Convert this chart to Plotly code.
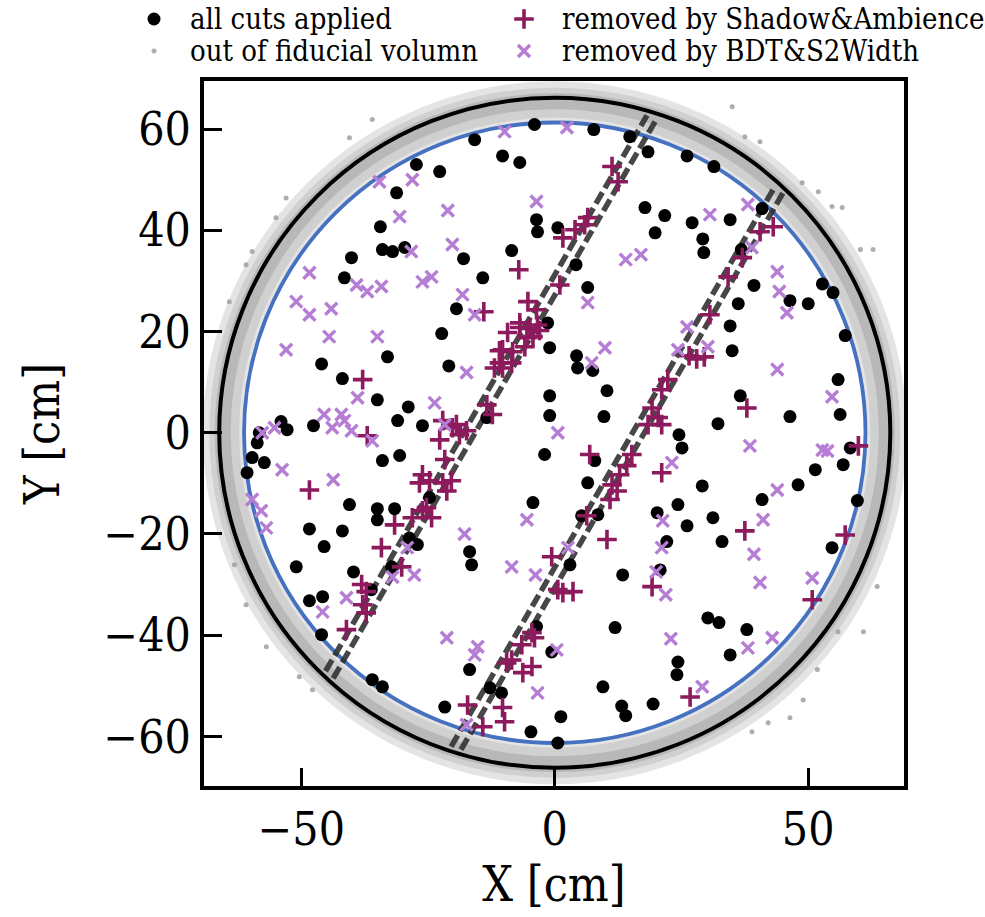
import math
import plotly.graph_objects as go

# ---- event positions (cm) ----
all_cuts = [
    (-4.0, 60.9), (-15.8, 57.9), (-27.3, 53.0), (-22.7, 51.6), (-10.3, 54.7), (-6.9, 53.4),
    (-31.2, 47.4), (-34.4, 40.7), (-34.0, 36.2), (-32.0, 35.8), (-29.6, 36.6), (-40.1, 34.6),
    (-41.5, 30.6), (-18.0, 34.4), (-8.5, 36.0), (-14.2, 30.6), (-19.4, 24.5), (-3.6, 42.1),
    (-3.4, 39.7), (0.6, 40.5), (7.7, 59.9), (14.8, 58.5), (18.4, 55.5), (26.1, 54.7),
    (31.4, 52.6), (17.8, 44.5), (21.7, 42.9), (27.1, 41.5), (19.8, 39.5), (29.2, 38.3),
    (29.4, 35.6), (34.6, 42.1), (40.9, 44.3), (36.8, 36.2), (39.3, 29.1), (36.2, 25.5),
    (46.4, 26.1), (50.0, 25.5), (52.8, 29.4), (54.9, 27.7), (4.2, 33.2), (6.5, 28.7),
    (-1.4, 21.7),
    (-22.3, 19.6), (-33.0, 15.0), (-20.9, 13.2), (-46.0, 13.6), (-41.9, 10.7), (-35.0, 6.5),
    (-28.9, 5.1), (-31.0, 2.4), (-26.1, 1.4), (-47.6, 1.4), (-54.0, 2.2), (-52.8, 0.6),
    (-58.3, 0.0), (-58.7, -2.0), (-59.7, -4.9), (-57.3, -5.9), (-60.7, -7.9), (-30.6, -4.5),
    (-34.0, -5.5), (-40.5, -14.2), (-35.0, -15.0), (-35.0, -17.2), (-31.6, -15.0), (-48.4, -19.0),
    (-41.9, -19.4), (-45.5, -22.5), (-24.7, -12.8), (-28.7, -20.8), (-27.1, -22.1), (-13.4, 3.0),
    (-2.0, -4.3), (-4.3, -13.8), (-1.0, 16.8), (-1.0, 7.3), (-1.0, 3.4),
    (34.6, 21.1), (35.0, 16.2), (4.3, 15.2), (4.5, 12.8), (7.5, 12.3), (10.3, 8.3),
    (9.7, 3.2), (57.3, 19.2), (55.9, 10.5), (56.3, 3.6), (36.6, 7.3), (32.2, 1.8),
    (46.4, 3.2), (24.5, -0.4), (25.1, -3.0), (58.3, -3.0), (56.9, -6.3), (51.4, -7.3),
    (48.0, -10.3), (40.9, -13.2), (29.1, -10.5), (24.3, -14.2), (20.2, -15.8), (31.2, -16.8),
    (26.1, -18.4), (22.1, -21.5), (33.0, -21.5), (6.5, -9.9), (7.9, -5.5), (8.5, -16.2),
    (5.3, -16.4), (59.7, -13.4), (54.7, -22.7),
    (-51.0, -26.5), (-39.7, -27.5), (-48.4, -33.2), (-45.8, -32.4), (-36.2, -31.0), (-32.2, -26.5),
    (-46.0, -39.9), (-36.0, -48.8), (-34.0, -50.2), (-21.7, -54.2), (-16.8, -46.8), (-16.8, -23.5),
    (-16.4, -26.1), (-12.8, -50.4), (-10.5, -51.4), (-4.7, -59.1), (-3.6, -38.3), (-0.6, -43.3),
    (13.4, -28.1), (3.0, -26.1), (20.8, -27.1), (11.9, -38.5), (30.2, -36.6), (32.4, -37.5),
    (37.9, -38.9), (34.6, -43.9), (24.3, -45.3), (24.1, -47.8), (9.5, -50.2), (13.2, -54.0),
    (14.0, -55.9), (19.4, -53.6), (1.2, -56.1), (0.6, -61.3),
]

shadow_ambience = [
    (-7.1, 32.2), (-14.0, 23.9),
    (-5.3, 25.9), (-3.6, 24.3), (-6.9, 21.7), (-4.9, 20.6), (-3.0, 20.2), (-4.3, 19.0),
    (-9.3, 19.8), (-10.3, 16.4), (-8.3, 16.0), (-10.9, 13.8), (-8.5, 13.8), (-5.9, 17.0),
    (-3.4, 21.3), (-5.5, 18.8), (-10.9, 16.2), (-11.9, 12.8), (-10.3, 12.8), (-6.9, 20.8),
    (11.3, 52.6), (12.5, 49.6), (6.5, 42.5), (5.9, 41.1), (4.0, 40.1), (1.6, 38.5),
    (1.0, 29.2), (43.1, 40.7), (40.5, 39.7), (37.0, 34.6), (34.2, 30.8), (30.6, 23.3),
    (26.5, 15.2), (28.0, 14.6), (29.5, 15.0), (22.3, 10.5), (21.1, 8.5), (19.2, 4.9),
    (20.4, 3.0), (18.4, 1.6), (21.1, 1.6), (37.9, 4.9),
    (-37.9, 10.5), (-13.4, 5.5), (-12.3, 3.6), (-37.0, -0.6), (-48.4, -11.3), (-31.6, -18.2),
    (-34.2, -22.7), (-22.1, 2.4), (-19.4, 1.6), (-17.4, 0.4), (-22.7, -1.4), (-18.8, -0.4),
    (-20.2, 1.0), (-21.7, -5.3), (-26.1, -8.3), (-24.7, -9.5), (-26.7, -9.9), (-22.1, -9.9),
    (-20.4, -9.5), (-21.3, -11.5), (-26.1, -15.4), (-28.1, -16.8), (-24.3, -16.8), (-25.3, -14.8),
    (-38.1, -30.0), (-37.2, -31.4), (-37.9, -34.0), (-37.2, -35.6), (-41.1, -38.9), (-30.2, -26.5),
    (-4.5, -39.5), (-4.0, -40.5), (-6.5, -41.9), (-9.5, -45.5), (-8.5, -44.9), (-6.3, -47.4),
    (-4.5, -46.2), (-17.2, -53.8), (-10.3, -54.3), (-9.9, -57.1), (-14.2, -58.1),
    (15.2, -4.3), (14.2, -6.5), (12.8, -8.3), (11.3, -10.3), (12.3, -11.5), (10.9, -13.2),
    (6.9, -4.3), (21.1, -7.9), (6.3, -16.4), (10.3, -21.1), (37.5, -19.4), (59.9, -2.6),
    (57.3, -20.2), (19.2, -30.4), (50.8, -33.0), (26.7, -52.2), (1.6, -31.6), (3.6, -31.4),
    (0.6, -31.0), (-0.6, -24.5),
]

bdt_s2width = [
    (-9.9, 59.5), (-34.6, 49.6), (-28.1, 50.0), (-30.6, 42.7), (-21.1, 43.9), (-3.6, 45.7),
    (-20.2, 37.2), (-28.3, 35.8), (-48.4, 31.6), (-39.1, 29.2), (-37.0, 27.9), (-34.2, 28.9),
    (-26.1, 29.8), (-24.3, 30.8), (-51.0, 25.9), (-48.4, 23.3), (-44.1, 24.5), (-18.2, 27.3),
    (-15.8, 23.3), (-53.0, 16.4), (-44.5, 19.0), (-35.0, 19.0), (-17.4, 11.9), (-38.9, 6.9),
    (-23.7, 5.9), (-45.5, 3.6), (-42.1, 3.6), (-43.9, 1.0), (-40.1, 0.4), (-41.5, 2.4),
    (-57.7, 0.0), (-55.3, 1.0), (-36.0, -1.6), (-53.8, -7.3), (-43.7, -9.3), (-21.7, 1.6),
    (-5.5, -17.2), (-17.8, -20.0), (-29.1, -22.7), (-59.7, -13.2), (-57.9, -15.4), (-56.9, -18.8),
    (-27.7, -28.1), (-32.0, -28.5), (-41.1, -32.6), (-45.8, -35.4), (-8.5, -26.5), (-3.8, -28.1),
    (-21.3, -40.5), (-15.2, -42.3), (-15.8, -43.9), (-3.4, -51.4), (-17.4, -57.7), (0.4, -42.9),
    (2.4, 60.3), (30.6, 43.1), (38.1, 45.1), (38.9, 36.6), (14.0, 34.2), (17.0, 35.2),
    (6.5, 25.7), (43.9, 31.8), (44.3, 27.9), (45.8, 23.7), (26.1, 20.9), (30.2, 17.0),
    (24.3, 16.4), (9.9, 16.8), (7.3, 13.8), (43.9, 12.5), (54.7, 7.1),
    (38.5, -2.6), (52.8, -3.4), (53.8, -3.6), (23.1, -5.9), (0.6, 0.0), (43.9, -11.3),
    (41.1, -17.2), (21.3, -17.4), (21.1, -22.7), (39.3, -24.0), (2.6, -22.7), (20.0, -27.5),
    (21.9, -32.0), (40.5, -29.6), (50.8, -28.7), (22.9, -40.7), (38.1, -42.5), (42.9, -40.5),
    (29.1, -50.2),
]

# sparse events scattered outside the fiducial boundary
out_of_fv = [
    (35.0, 64.4), (37.5, 58.5), (40.5, 57.5), (48.8, 49.4), (52.0, 47.6), (54.7, 44.7),
    (56.7, 44.5), (60.3, 36.2), (62.8, 36.2), (-36.0, 61.9), (-53.0, 46.4), (-55.0, 42.5),
    (-59.7, 35.8), (-60.9, 33.2), (-64.2, 25.9), (-40.5, 58.3), (60.9, -39.3), (55.9, -39.3),
    (46.4, -56.3), (42.1, -57.3), (38.9, -59.1), (49.0, -52.8), (63.6, -30.4), (51.8, -46.8),
    (-50.4, -48.2), (-47.8, -50.8), (-56.9, -42.3), (-60.9, -34.0), (-63.2, -26.1),
]

# detector geometry (cm)
tpc_radius = 66.2          # black boundary
fiducial_radius = 61.3     # blue boundary
band_radius = 65.2         # dense band of out-of-FV events
band_angle_deg = 60.0      # orientation of the shadow bands
band_offsets = [-15.6, -13.6, 13.3, 15.3]   # perpendicular offsets of dashed lines
band_reach = 65.3

legend_labels = ["all cuts applied", "out of fiducial volumn",
                 "removed by Shadow&Ambience", "removed by BDT&S2Width"]

FONT = "DejaVu Serif Condensed, DejaVu Serif, serif"
W, H = 985, 917
# plot box in pixels (left, right, top, bottom)
PL, PR, PT, PB = 204, 904, 81, 786
LEG_H = 70   # height of the legend strip at the top

BLACK = "black"
GRAY = "rgba(160,160,160,0.85)"
MAROON = "#8c1a5c"
LILAC = "#b57ed4"

styles = {
    "all cuts applied": dict(size=13, color=BLACK),
    "out of fiducial volumn": dict(size=5, color=GRAY),
    "removed by Shadow&Ambience": dict(size=14, symbol="cross-thin", color=MAROON,
                                       line=dict(width=3.6, color=MAROON)),
    "removed by BDT&S2Width": dict(size=12, symbol="x-thin", color=LILAC,
                                   line=dict(width=3.4, color=LILAC)),
}


def unzip(pairs):
    return [p[0] for p in pairs], [p[1] for p in pairs]


fig = go.Figure()

for label, pts in [("out of fiducial volumn", out_of_fv),
                   ("all cuts applied", all_cuts),
                   ("removed by Shadow&Ambience", shadow_ambience),
                   ("removed by BDT&S2Width", bdt_s2width)]:
    xs, ys = unzip(pts)
    fig.add_trace(go.Scatter(x=xs, y=ys, mode="markers", name=label,
                             marker=styles[label], showlegend=False,
                             xaxis="x", yaxis="y"))

# legend drawn in its own pixel-scaled strip above the plot
leg_cols = {0: (154, 188), 1: (524, 560)}
leg_rows = {0: 19, 1: 51}
leg_layout = {legend_labels[0]: (0, 0), legend_labels[1]: (0, 1),
              legend_labels[2]: (1, 0), legend_labels[3]: (1, 1)}
annotations = []
for label in legend_labels:
    c, r = leg_layout[label]
    sym_x, txt_x = leg_cols[c]
    y = leg_rows[r]
    fig.add_trace(go.Scatter(x=[sym_x], y=[y], mode="markers", marker=styles[label],
                             showlegend=False, hoverinfo="skip",
                             xaxis="x2", yaxis="y2"))
    annotations.append(dict(x=txt_x, y=y, xref="x2", yref="y2", text=label,
                            showarrow=False, xanchor="left", yanchor="middle",
                            font=dict(family=FONT, size=29, color="black")))

shapes = []
# soft gray band where the out-of-FV events pile up
for r, w, col in [(band_radius + 0.3, 40, "rgba(195,195,195,0.45)"),
                  (band_radius, 30, "rgba(185,185,185,0.45)"),
                  (band_radius + 0.3, 16, "rgba(140,140,140,0.35)")]:
    shapes.append(dict(type="circle", xref="x", yref="y", layer="below",
                       x0=-r, y0=-r, x1=r, y1=r, line=dict(color=col, width=w)))

shapes.append(dict(type="circle", xref="x", yref="y", layer="below",
                   x0=-tpc_radius, y0=-tpc_radius, x1=tpc_radius, y1=tpc_radius,
                   line=dict(color="black", width=4)))
shapes.append(dict(type="circle", xref="x", yref="y", layer="below",
                   x0=-fiducial_radius, y0=-fiducial_radius,
                   x1=fiducial_radius, y1=fiducial_radius,
                   line=dict(color="#4571c0", width=3.8)))

a = math.radians(band_angle_deg)
ux, uy = math.cos(a), math.sin(a)
nx, ny = math.sin(a), -math.cos(a)
for d in band_offsets:
    half = math.sqrt(band_reach ** 2 - d ** 2)
    px, py = d * nx, d * ny
    shapes.append(dict(type="line", xref="x", yref="y", layer="below",
                       x0=px - half * ux, y0=py - half * uy,
                       x1=px + half * ux, y1=py + half * uy,
                       line=dict(color="rgba(45,45,45,0.88)", width=5.5, dash="13px,5px")))

axis_common = dict(
    showgrid=False, zeroline=False, showline=True, linecolor="black", linewidth=4,
    mirror=True, ticks="inside", ticklen=18, tickwidth=3, tickcolor="black",
    tickfont=dict(family=FONT, size=46, color="black"),
)

fig.update_layout(
    width=W, height=H,
    margin=dict(l=0, r=0, t=0, b=0),
    paper_bgcolor="white", plot_bgcolor="white",
    shapes=shapes, annotations=annotations,
    xaxis=dict(domain=[PL / W, PR / W], range=[-69.2, 68.9], tickvals=[-50, 0, 50],
               anchor="y",
               title=dict(text="X [cm]", font=dict(family=FONT, size=48, color="black"),
                          standoff=12),
               **axis_common),
    yaxis=dict(domain=[1 - PB / H, 1 - PT / H], range=[-69.8, 69.5],
               tickvals=[-60, -40, -20, 0, 20, 40, 60], anchor="x",
               title=dict(text="Y [cm]", font=dict(family=FONT, size=48, color="black"),
                          standoff=30),
               **axis_common),
    xaxis2=dict(domain=[0, 1], range=[0, W], visible=False, fixedrange=True, anchor="y2"),
    yaxis2=dict(domain=[1 - LEG_H / H, 1], range=[LEG_H, 0], visible=False,
                fixedrange=True, anchor="x2"),
    showlegend=False,
)

fig.write_html("out.html")
